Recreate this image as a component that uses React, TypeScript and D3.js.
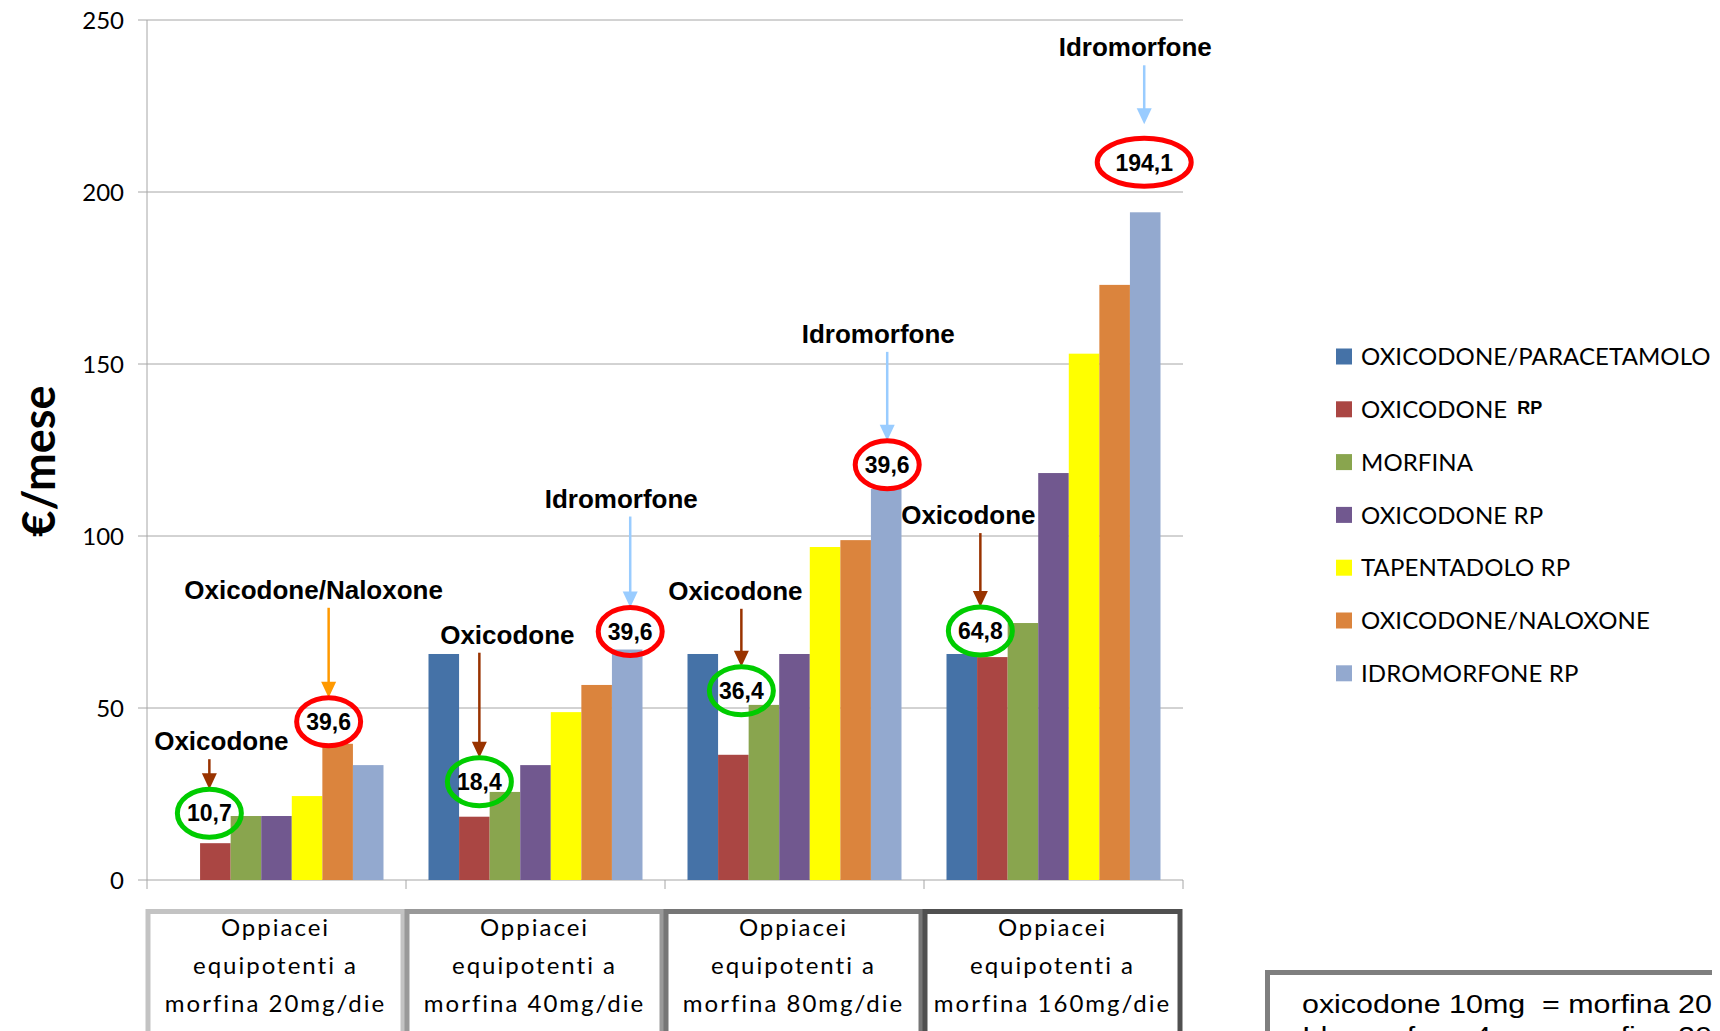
import React from 'react';
import * as d3 from 'd3';

// categories (dose of equipotent morphine)
const categories = ['20mg/die', '40mg/die', '80mg/die', '160mg/die'];
const categoryLines = [
  ['Oppiacei', 'equipotenti a', 'morfina 20mg/die'],
  ['Oppiacei', 'equipotenti a', 'morfina 40mg/die'],
  ['Oppiacei', 'equipotenti a', 'morfina 80mg/die'],
  ['Oppiacei', 'equipotenti a', 'morfina 160mg/die'],
];

const seriesNames = [
  'OXICODONE/PARACETAMOLO',
  'OXICODONE',
  'MORFINA',
  'OXICODONE RP',
  'TAPENTADOLO RP',
  'OXICODONE/NALOXONE',
  'IDROMORFONE RP',
];
const seriesSup = ['', 'RP', '', '', '', '', ''];

// €/mese per category
const oxicodoneParacetamolo = [null, 65.7, 65.7, 65.7];
const oxicodoneRpA = [10.7, 18.4, 36.4, 64.8];
const morfina = [18.6, 25.6, 50.9, 74.7];
const oxicodoneRpB = [18.6, 33.4, 65.7, 118.3];
const tapentadoloRp = [24.4, 48.8, 96.8, 153];
const oxicodoneNaloxone = [39.6, 56.7, 98.8, 173];
const idromorfoneRp = [33.4, 67, 113.7, 194.1];
const seriesValues = [
  oxicodoneParacetamolo,
  oxicodoneRpA,
  morfina,
  oxicodoneRpB,
  tapentadoloRp,
  oxicodoneNaloxone,
  idromorfoneRp,
];

const yTicks = [0, 50, 100, 150, 200, 250];

// callouts: drug, price shown in the ring, category, series
const calloutLabels = ['Oxicodone', 'Oxicodone/Naloxone', 'Oxicodone', 'Idromorfone', 'Oxicodone', 'Idromorfone', 'Oxicodone', 'Idromorfone'];
const calloutValues = ['10,7', '39,6', '18,4', '39,6', '36,4', '39,6', '64,8', '194,1'];
const calloutCats = [0, 0, 1, 1, 2, 2, 3, 3];
const calloutSeries = [1, 5, 1, 6, 1, 6, 1, 6];

const noteLines = ['oxicodone 10mg  = morfina 20mg', 'Idromorfone 4mg = morfina 20mg'];

// styling
const colors = ['#4572A7', '#AA4643', '#89A54E', '#71588F', '#FFFF00', '#DB843D', '#93A9CF'];
const boxStrokes = ['#C3C3C3', '#999999', '#767676', '#505050'];
const ringGood = '#00CC00';
const ringBad = '#FF0000';
// per-callout layout: x shift, ring lift above bar top, arrow length, label shift, tip gap, ring rx
const calloutLayout = [
  { dx: -6, lift: 30, len: 30, ldx: 12, gap: 0, rx: 32 },
  { dx: -9, lift: 22, len: 90, ldx: -15, gap: 0, rx: 32 },
  { dx: 5, lift: 35, len: 105, ldx: 28, gap: 0, rx: 32 },
  { dx: 3, lift: 18, len: 91, ldx: -9, gap: 0, rx: 32 },
  { dx: 8, lift: 64, len: 58, ldx: -6, gap: 0, rx: 32 },
  { dx: 1, lift: 24, len: 89, ldx: -9, gap: 0, rx: 32 },
  { dx: -12, lift: 26, len: 74, ldx: -12, gap: 0, rx: 32 },
  { dx: -1, lift: 50, len: 59, ldx: -9, gap: 14, rx: 47 },
];
const arrowColor = (s: number) => (s === 1 ? '#993300' : s === 5 ? '#FF9900' : '#99CCFF');

const PLOT = { left: 147, right: 1183, top: 20, bottom: 880 };

export default function App() {
  const x0 = d3.scaleBand<string>().domain(categories).range([PLOT.left, PLOT.right]);
  const x1 = d3
    .scaleBand<number>()
    .domain(d3.range(seriesNames.length))
    .range([22.5, x0.bandwidth() - 22.5]);
  const y = d3.scaleLinear().domain([0, 250]).range([PLOT.bottom, PLOT.top]);

  const arial = '"Liberation Sans", Arial, sans-serif';
  const lato = 'Lato, "Open Sans", sans-serif';

  return (
    <svg width={1712} height={1023} style={{ display: 'block' }}>
      <g transform="translate(-8,-8)">
        <rect x={0} y={0} width={1720} height={1031} fill="#fff" />

        {/* grid + y axis */}
        {yTicks.map((t) => (
          <g key={t}>
            {t > 0 && (
              <line x1={PLOT.left} x2={PLOT.right} y1={y(t)} y2={y(t)} stroke="#A6A6A6" strokeWidth={1} />
            )}
            <line x1={PLOT.left - 9} x2={PLOT.left} y1={y(t)} y2={y(t)} stroke="#A6A6A6" />
            <text x={124} y={y(t)} dy="0.36em" textAnchor="end" fontFamily={lato} fontSize={24} fill="#000">
              {t}
            </text>
          </g>
        ))}
        <line x1={PLOT.left} x2={PLOT.left} y1={PLOT.top} y2={PLOT.bottom + 9} stroke="#A6A6A6" />
        <line x1={PLOT.left} x2={PLOT.right} y1={PLOT.bottom} y2={PLOT.bottom} stroke="#A6A6A6" />
        {categories.map((c) => (
          <line
            key={c}
            x1={(x0(c) || 0) + x0.bandwidth()}
            x2={(x0(c) || 0) + x0.bandwidth()}
            y1={PLOT.bottom}
            y2={PLOT.bottom + 9}
            stroke="#A6A6A6"
          />
        ))}

        <text
          transform="translate(55,461) rotate(-90)"
          textAnchor="middle"
          fontFamily={lato}
          fontWeight="bold"
          fontSize={45}
        >
          €/mese
        </text>

        {/* bars */}
        {categories.map((c, ci) =>
          seriesValues.map((vals, si) => {
            const v = vals[ci];
            if (v == null) return null;
            return (
              <rect
                key={`${ci}-${si}`}
                x={(x0(c) || 0) + (x1(si) || 0)}
                y={y(v)}
                width={x1.bandwidth()}
                height={y(0) - y(v)}
                fill={colors[si]}
              />
            );
          })
        )}

        {/* callouts */}
        {calloutLabels.map((label, i) => {
          const ci = calloutCats[i];
          const si = calloutSeries[i];
          const L = calloutLayout[i];
          const v = seriesValues[si][ci] as number;
          const cx = (x0(categories[ci]) || 0) + (x1(si) || 0) + x1.bandwidth() / 2 + L.dx;
          const cy = y(v) - L.lift;
          const ry = 24;
          const tip = cy - ry - L.gap;
          const start = tip - L.len;
          const col = arrowColor(si);
          const good = si === 1;
          return (
            <g key={i}>
              <text x={cx + L.ldx} y={start - 9} textAnchor="middle" fontFamily={arial} fontWeight="bold" fontSize={26}>
                {label}
              </text>
              <line x1={cx} x2={cx} y1={start} y2={tip - 14} stroke={col} strokeWidth={2.5} />
              <path d={`M${cx - 7.5},${tip - 16} L${cx + 7.5},${tip - 16} L${cx},${tip} Z`} fill={col} />
              <ellipse cx={cx} cy={cy} rx={L.rx} ry={ry} fill="none" stroke={good ? ringGood : ringBad} strokeWidth={5} />
              <text x={cx} y={cy} dy="0.36em" textAnchor="middle" fontFamily={arial} fontWeight="bold" fontSize={23}>
                {calloutValues[i]}
              </text>
            </g>
          );
        })}

        {/* category boxes */}
        {categories.map((c, ci) => {
          const bx = (x0(c) || 0) + 1;
          const bw = x0.bandwidth() - 4;
          return (
            <g key={c}>
              <rect x={bx} y={911.5} width={bw} height={140} fill="#fff" stroke={boxStrokes[ci]} strokeWidth={5} />
              {categoryLines[ci].map((line, li) => (
                <text
                  key={li}
                  x={bx + bw / 2}
                  y={936 + li * 38}
                  textAnchor="middle"
                  fontFamily={lato}
                  fontSize={24}
                  letterSpacing={2}
                >
                  {line}
                </text>
              ))}
            </g>
          );
        })}

        {/* legend */}
        {seriesNames.map((name, si) => {
          const ly = 356.5 + si * 52.8;
          return (
            <g key={si}>
              <rect x={1336} y={ly - 8} width={16} height={16} fill={colors[si]} />
              <text x={1361} y={ly} dy="0.36em" fontFamily={lato} fontSize={24} letterSpacing={0.1}>
                {name}
                {seriesSup[si] && (
                  <tspan dx={10} dy={-4} fontFamily={arial} fontWeight="bold" fontSize={18} letterSpacing={0}>
                    {seriesSup[si]}
                  </tspan>
                )}
              </text>
            </g>
          );
        })}

        {/* equivalence note */}
        <rect x={1267.5} y={972.5} width={500} height={100} fill="#fff" stroke="#7F7F7F" strokeWidth={5} />
        {noteLines.map((line, i) => (
          <text
            key={i}
            transform={`translate(1302,${1013 + i * 32}) scale(1.17,1)`}
            fontFamily={arial}
            fontSize={26}
            style={{ whiteSpace: 'pre' }}
          >
            {line}
          </text>
        ))}
      </g>
    </svg>
  );
}
